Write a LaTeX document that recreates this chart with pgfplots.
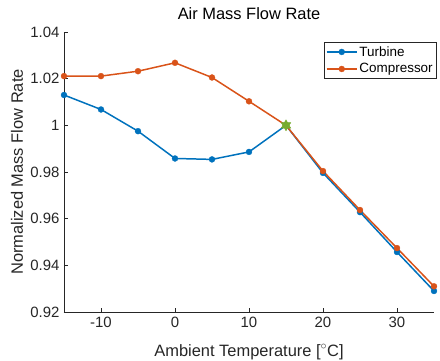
\documentclass[border=0pt]{standalone}
\usepackage{pgfplots}
\pgfplotsset{compat=1.18}
\usepackage{fontspec}
\setmainfont{Liberation Sans}
\usetikzlibrary{plotmarks}
\definecolor{mblue}{RGB}{0,114,189}
\definecolor{morange}{RGB}{217,83,25}
\definecolor{mgreen}{RGB}{119,172,48}
\definecolor{mgray}{RGB}{38,38,38}
\pgfdeclareplotmark{hexagram}{%
  \pgfpathmoveto{\pgfqpointpolar{90}{\pgfplotmarksize}}%
  \pgfpathlineto{\pgfqpointpolar{120}{0.577\pgfplotmarksize}}%
  \pgfpathlineto{\pgfqpointpolar{150}{\pgfplotmarksize}}%
  \pgfpathlineto{\pgfqpointpolar{180}{0.577\pgfplotmarksize}}%
  \pgfpathlineto{\pgfqpointpolar{210}{\pgfplotmarksize}}%
  \pgfpathlineto{\pgfqpointpolar{240}{0.577\pgfplotmarksize}}%
  \pgfpathlineto{\pgfqpointpolar{270}{\pgfplotmarksize}}%
  \pgfpathlineto{\pgfqpointpolar{300}{0.577\pgfplotmarksize}}%
  \pgfpathlineto{\pgfqpointpolar{330}{\pgfplotmarksize}}%
  \pgfpathlineto{\pgfqpointpolar{0}{0.577\pgfplotmarksize}}%
  \pgfpathlineto{\pgfqpointpolar{30}{\pgfplotmarksize}}%
  \pgfpathlineto{\pgfqpointpolar{60}{0.577\pgfplotmarksize}}%
  \pgfpathclose
  \pgfusepathqfillstroke}
\begin{document}
\begin{tikzpicture}[x=1bp,y=1bp]
\begin{axis}[
  name=ax,
  scale only axis,
  width=370bp, height=280bp,
  xmin=-15, xmax=35, ymin=0.92, ymax=1.04,
  xtick={-10,0,10,20,30},
  ytick={0.92,0.94,0.96,0.98,1.00,1.02,1.04},
  axis x line*=bottom, axis y line*=left,
  tick align=inside,
  major tick length=4bp,
  axis line style={mgray, line width=0.5pt},
  tick style={mgray, line width=0.5pt},
  every tick label/.style={font=\fontsize{15}{17}\selectfont, text=mgray},
  xticklabel style={yshift=-2bp},
  yticklabel style={xshift=-1bp},
  /pgf/number format/assume math mode=true,
  title={Air Mass Flow Rate},
  title style={font=\fontsize{16.5}{18}\selectfont, text=black, at={(axis description cs:0.5,1)}, anchor=base, yshift=7bp},
  xlabel={Ambient Temperature [$^\circ$C]},
  ylabel={Normalized Mass Flow Rate},
  xlabel style={font=\fontsize{16.5}{18}\selectfont, text=mgray, at={(axis description cs:0.5,0)}, anchor=base, yshift=-44bp},
  ylabel style={font=\fontsize{16.5}{18}\selectfont, text=mgray, at={(axis description cs:0,0.5)}, anchor=base, yshift=41bp},
  legend style={at={(1.008,0.964)}, anchor=north east, draw=mgray, line width=0.5pt,
    font=\fontsize{13.5}{15}\selectfont, text=black, inner sep=2bp, row sep=2bp,
    cells={anchor=west}},
  legend cell align=left,
  legend image code/.code={
    \draw[#1, mark repeat=2, mark phase=2] plot coordinates {(0bp,0bp) (15bp,0bp) (30bp,0bp)};},
  clip=false,
]
\addplot[mblue, line width=1.5pt, mark=*, mark size=3bp, mark options={fill=mblue, draw=mblue, line width=0.3pt}] coordinates {
(-15,1.0130) (-10,1.0068) (-5,0.9975) (0,0.9858) (5,0.9854) (10,0.9886) (15,1.0000)
(20,0.9796) (25,0.9628) (30,0.9457) (35,0.9290)};
\addlegendentry{Turbine}
\addplot[morange, line width=1.5pt, mark=*, mark size=3bp, mark options={fill=morange, draw=morange, line width=0.3pt}] coordinates {
(-15,1.0211) (-10,1.0211) (-5,1.0232) (0,1.0268) (5,1.0205) (10,1.0103) (15,1.0000)
(20,0.9804) (25,0.9637) (30,0.9474) (35,0.9310)};
\addlegendentry{Compressor}
\addplot[mgreen, only marks, mark=hexagram, mark size=5.5bp, mark options={fill=mgreen, draw=mgreen, line width=0.4pt}, forget plot] coordinates {(15,1.0)};
\end{axis}
\pgfresetboundingbox
\path[use as bounding box] ([shift={(-64bp,-49bp)}]ax.south west) rectangle ([shift={(6bp,32bp)}]ax.north east);
\end{tikzpicture}
\end{document}
